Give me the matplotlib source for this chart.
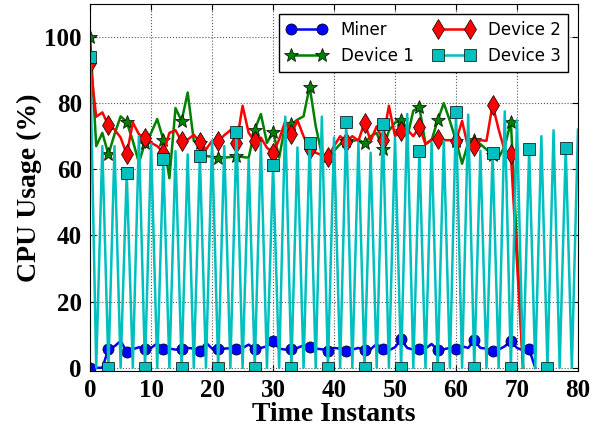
import matplotlib
matplotlib.use("Agg")
import matplotlib.pyplot as plt

# time instants and cpu usage (%) for each node
miner = [0, 0, 0, 5.6, 6.5, 8.1, 4.9, 5.6, 6.2, 5.6,
         6.0, 7.4, 5.6, 5.8, 5.5, 5.6, 6.0, 5.8, 5.1, 7.6,
         5.8, 5.6, 5.8, 5.9, 5.6, 6.0, 7.0, 5.6, 6.0, 6.5,
         8.1, 5.8, 5.5, 5.6, 6.0, 6.8, 6.3, 5.8, 5.6, 5.1,
         6.0, 5.8, 5.1, 5.5, 6.0, 5.3, 5.6, 7.2, 5.6, 5.3,
         6.2, 8.6, 6.0, 5.5, 5.6, 5.8, 7.2, 5.4, 5.6, 6.0,
         5.6, 6.5, 6.0, 8.3, 6.0, 5.8, 5.1, 5.5, 6.5, 8.1,
         6.0, 5.3, 5.6, 0]

device1 = [100, 67, 71, 64.5, 70.6, 76, 74.3, 68.6, 62, 68,
           71, 75.2, 69, 57.3, 78.5, 74.6, 83.2, 68.6, 68, 64,
           63.8, 63.5, 63.5, 63.7, 64, 63.7, 63.5, 72, 76.7, 68,
           71.4, 63.5, 73.6, 73.6, 75, 76, 85, 73, 64.5, 64,
           65.6, 67.6, 68.6, 68.5, 69, 67.8, 70, 71, 66, 71.6,
           74.1, 74.8, 69.6, 77.7, 78.7, 67.6, 68.8, 74.8, 80, 74.6,
           68.6, 61.7, 68, 69, 67.6, 66, 64.3, 63.5, 67, 74.3,
           37, 0]

device2 = [92, 75.9, 77.2, 73.3, 72, 69.6, 64.5, 74.1, 70.6, 69.6,
           68, 67, 65, 71, 71.8, 68.4, 69, 70.4, 68.3, 66,
           68.6, 68.4, 70.3, 71.8, 67.8, 79.2, 71, 68.4, 69.6, 66.5,
           65, 69, 74.6, 70.6, 74.8, 70, 66, 65, 64.3, 63.7,
           67, 70, 68.3, 70, 68.6, 74.1, 68.6, 73, 68.8, 79.2,
           70, 71.6, 72, 70, 72.8, 67.6, 69, 69.3, 68.8, 68.8,
           68.6, 74.6, 66.5, 67, 68.8, 68.6, 79.5, 72, 65.5, 64.5,
           32, 0]

device3 = [94, 0, 67, 0, 67, 0, 59, 0, 70, 0,
           67.6, 0, 63, 0, 65.5, 0, 64.5, 0, 64, 0,
           68.6, 0, 67, 0, 71.3, 0, 63, 0, 68, 0,
           61.3, 0, 75.9, 0, 66.6, 0, 68, 0, 75.9, 0,
           69.6, 0, 74.3, 0, 68, 0, 65, 0, 73.6, 0,
           69.6, 0, 76.7, 0, 65.6, 0, 68, 0, 68.6, 0,
           77.2, 0, 76.5, 0, 65.6, 0, 65, 0, 77.5, 0,
           74.8, 0, 66, 0, 70, 0, 71.8, 0, 66.4, 0,
           72]

fig = plt.figure(figsize=(6.09, 4.30), dpi=100)
ax = fig.add_axes([0.148, 0.137, 0.801, 0.854])

ax.plot(range(len(miner)), miner, color='b', marker='o', ms=8, lw=1.8,
        markevery=3, mec='k', mew=0.5, label='Miner')
ax.plot(range(len(device1)), device1, color='g', marker='*', ms=10, lw=1.8,
        markevery=3, mec='k', mew=0.5, label='Device 1')
ax.plot(range(len(device2)), device2, color='r', marker='d', ms=10, lw=1.8,
        markevery=3, mec='k', mew=0.5, label='Device 2')
ax.plot(range(len(device3)), device3, color='c', marker='s', ms=8, lw=1.8,
        markevery=3, mec='k', mew=0.5, label='Device 3')

ax.set_xlim(0, 80)
ax.set_ylim(-1, 110)
ax.set_xticks(range(0, 81, 10))
ax.set_yticks(range(0, 101, 20))
ax.grid(True, color='0.35', ls=':', lw=0.8)
ax.tick_params(direction='in', top=True, right=True, length=4, pad=6)
for lab in ax.get_xticklabels() + ax.get_yticklabels():
    lab.set_family('Liberation Serif')
    lab.set_weight('bold')
    lab.set_size(18)

ax.set_xlabel('Time Instants', family='Liberation Serif', weight='bold',
              size=20, labelpad=0)
ax.set_ylabel('CPU Usage (%)', family='Liberation Serif', weight='bold',
              size=20, labelpad=2)

leg = ax.legend(loc='upper right', ncol=2, numpoints=2, fontsize=12,
                fancybox=False, framealpha=1, edgecolor='k',
                borderaxespad=0.6, handlelength=2.5, columnspacing=1.2)
leg.get_frame().set_linewidth(1.0)

fig.savefig('out.png', dpi=100)
